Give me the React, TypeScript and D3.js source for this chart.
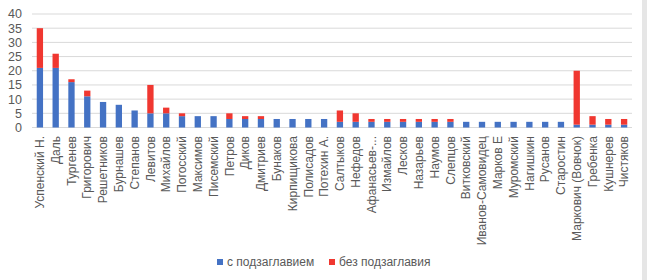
import React from "react";
import * as d3 from "d3";

const categories = [
  "Успенский Н.", "Даль", "Тургенев", "Григорович", "Решетников", "Бурнашев",
  "Степанов", "Левитов", "Михайлов", "Погосский", "Максимов", "Писемский",
  "Петров", "Диков", "Дмитриев", "Бунаков", "Кирпищикова", "Полисадов",
  "Потехин А.", "Салтыков", "Нефедов", "Афанасьев-...", "Измайлов", "Лесков",
  "Назарьев", "Наумов", "Слепцов", "Витковский", "Иванов-Самовидец", "Марков Е",
  "Муромский", "Нагишкин", "Русанов", "Старостин", "Маркович (Вовчок)", "Гребенка",
  "Кушнерев", "Чистяков",
];
const withSubtitle = [
  21, 21, 16, 11, 9, 8, 6, 5, 5, 4, 4, 4, 3, 3, 3, 3, 3, 3, 3, 2, 2, 2, 2, 2, 2, 2, 2,
  2, 2, 2, 2, 2, 2, 2, 1, 1, 1, 1,
];
const withoutSubtitle = [
  14, 5, 1, 2, 0, 0, 0, 10, 2, 1, 0, 0, 2, 1, 1, 0, 0, 0, 0, 4, 3, 1, 1, 1, 1, 1, 1,
  0, 0, 0, 0, 0, 0, 0, 19, 3, 2, 2,
];
const yTicks = [0, 5, 10, 15, 20, 25, 30, 35, 40];
const seriesNames = ["с подзаглавием", "без подзаглавия"];
const seriesColors = ["#4472C4", "#F03730"];

export default function App() {
  const W = 647, H = 280;
  const x = d3.scaleBand<string>().domain(categories).range([32, 632]).paddingInner(0.6).paddingOuter(0.3);
  const y = d3.scaleLinear().domain([0, 40]).range([127.5, 14]);
  const rows = categories.map((c, i) => ({ cat: c, a: withSubtitle[i], b: withoutSubtitle[i] }));
  const stacked = d3.stack<any>().keys(["a", "b"])(rows);
  const font = "'Liberation Sans', Arial, sans-serif";
  return (
    <svg width={W} height={H} style={{ position: "absolute", left: 0, top: 0, background: "#fff" }} fontFamily={font}>
      <rect x={0} y={0} width={W} height={H} fill="#fff" />
      <rect x={642} y={0} width={5} height={H} fill="#e6e6e6" />
      {yTicks.map((t) => (
        <g key={t}>
          <line x1={32} x2={632} y1={y(t)} y2={y(t)} stroke="#d9d9d9" strokeWidth={1} />
          <text x={22} y={y(t)} dy="0.35em" textAnchor="end" fontSize={12.5} fill="#595959">{t}</text>
        </g>
      ))}
      {stacked.map((s, si) => (
        <g key={si} fill={seriesColors[si]}>
          {s.map((d: any, i: number) =>
            d[1] - d[0] > 0 ? (
              <rect key={i} x={x(categories[i])} width={x.bandwidth()} y={y(d[1])} height={y(d[0]) - y(d[1])} />
            ) : null
          )}
        </g>
      ))}
      {categories.map((c) => (
        <text key={c} transform={`translate(${(x(c) as number) + x.bandwidth() / 2},136) rotate(-90)`} dy="0.35em"
          textAnchor="end" fontSize={12} fill="#595959">{c}</text>
      ))}
      <g>
        <rect x={217} y={259} width={6} height={6} fill={seriesColors[0]} />
        <text x={227} y={262} dy="0.35em" fontSize={12} fill="#595959">{seriesNames[0]}</text>
        <rect x={329} y={259} width={6} height={6} fill={seriesColors[1]} />
        <text x={339} y={262} dy="0.35em" fontSize={12} fill="#595959">{seriesNames[1]}</text>
      </g>
    </svg>
  );
}
